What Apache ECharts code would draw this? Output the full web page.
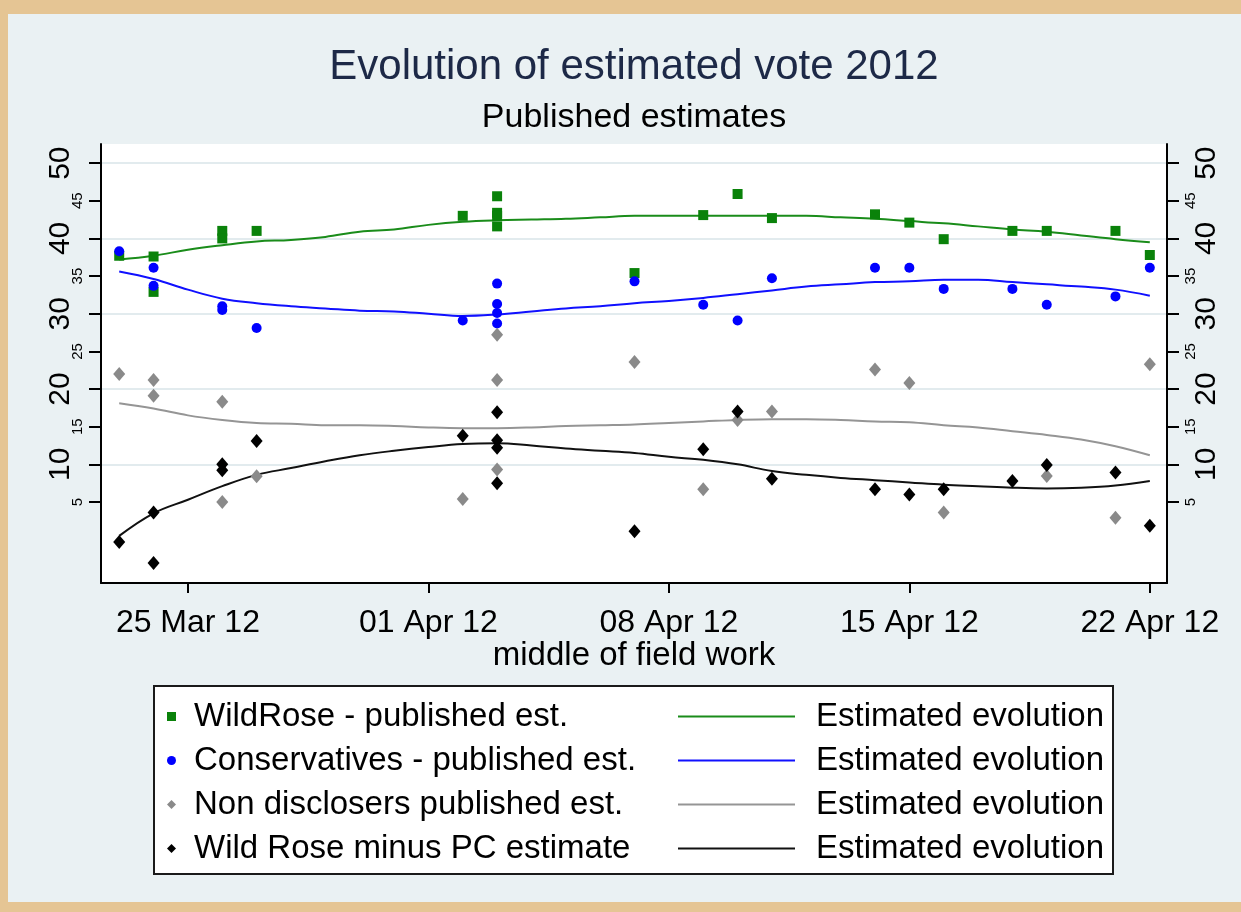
<!DOCTYPE html>
<html><head><meta charset="utf-8">
<script src="https://cdn.jsdelivr.net/npm/echarts@6/dist/echarts.min.js"></script>
<style>
html,body{margin:0;padding:0;background:#e5c594;width:1241px;height:912px;overflow:hidden;}
#c{position:absolute;left:8px;top:14px;width:1233px;height:888px;}
</style></head><body><div id="c"></div>
<script>
// ---- data ----
const pollDates = ['2012-03-23','2012-03-24','2012-03-24','2012-03-26','2012-03-26','2012-03-27',
  '2012-04-02','2012-04-03','2012-04-03','2012-04-03','2012-04-03','2012-04-07','2012-04-09',
  '2012-04-10','2012-04-11','2012-04-14','2012-04-15','2012-04-16','2012-04-18','2012-04-19',
  '2012-04-21','2012-04-22'];
const wildRose      = [37.7,37.6,32.9,41.0,40.0,41.0,43.0,45.6,43.4,43.0,41.6,35.4,43.1,45.9,42.7,43.2,42.1,39.9,41.0,41.0,41.0,37.8];
const conservatives = [38.3,33.7,36.1,31.0,30.5,28.1,29.1,28.7,30.1,31.3,34.0,34.3,31.2,29.1,34.7,36.1,36.1,33.3,33.3,31.2,32.3,36.1];
const nonDisclosers = [22.0,21.2,19.1,18.3,5.0,8.4,5.4,27.2,21.2,9.3,null,23.6,6.7,15.9,17.0,22.6,20.8,3.6,null,8.45,2.9,23.3];
const wrMinusPc     = [-0.3,3.6,-3.1,10.0,9.2,13.1,13.8,16.9,13.2,12.2,7.5,1.1,12.0,17.0,8.1,6.7,6.0,6.7,7.8,9.9,8.9,1.85];

const fitDates = ['2012-03-23','2012-03-24','2012-03-25','2012-03-26','2012-03-27','2012-03-28','2012-03-29',
  '2012-03-30','2012-03-31','2012-04-01','2012-04-02','2012-04-03','2012-04-04','2012-04-05','2012-04-06',
  '2012-04-07','2012-04-08','2012-04-09','2012-04-10','2012-04-11','2012-04-12','2012-04-13','2012-04-14',
  '2012-04-15','2012-04-16','2012-04-17','2012-04-18','2012-04-19','2012-04-20','2012-04-21','2012-04-22'];
const fitWildRose      = [37.2,37.7,38.5,39.1,39.6,39.8,40.2,40.9,41.2,41.8,42.2,42.4,42.5,42.6,42.8,43.0,43.0,43.0,43.0,43.0,43.0,42.8,42.6,42.3,42.0,41.6,41.2,40.9,40.4,39.9,39.5];
const fitConservatives = [35.6,34.6,33.2,32.0,31.4,31.0,30.7,30.4,30.3,30.0,29.7,29.9,30.3,30.7,31.0,31.4,31.7,32.1,32.6,33.1,33.6,33.9,34.2,34.3,34.5,34.5,34.2,33.9,33.6,33.2,32.4];
const fitNonDisclosers = [18.1,17.4,16.5,15.9,15.5,15.4,15.2,15.2,15.1,14.9,14.8,14.8,14.9,15.1,15.2,15.3,15.5,15.7,15.9,16.0,16.0,15.9,15.7,15.6,15.2,14.9,14.4,13.9,13.3,12.4,11.2];
const fitWrMinusPc     = [0.5,3.5,5.3,7.1,8.6,9.5,10.4,11.2,11.8,12.3,12.7,12.8,12.5,12.1,11.8,11.5,11.0,10.6,10.0,9.1,8.6,8.2,7.9,7.6,7.3,7.1,6.9,6.8,6.9,7.2,7.8];

const xTickDates  = ['2012-03-25','2012-04-01','2012-04-08','2012-04-15','2012-04-22'];
const xTickLabels = ['25 Mar 12','01 Apr 12','08 Apr 12','15 Apr 12','22 Apr 12'];
const yMajorTicks = [10,20,30,40,50];
const yMinorTicks = [5,15,25,35,45];

const scatterNames = ['WildRose - published est.','Conservatives - published est.','Non disclosers published est.','Wild Rose minus PC estimate'];
const fitNames = ['fit WildRose','fit Conservatives','fit Non disclosers','fit difference'];
const fitLabel = 'Estimated evolution';
const xTitle = 'middle of field work';
const mainTitle = 'Evolution of estimated vote 2012';
const subTitle = 'Published estimates';

// ---- helpers ----
const origin = Date.parse('2012-03-25');
const day = s => (Date.parse(s) - origin) / 86400000;
const xTickDays = xTickDates.map(day);
const pts = (dates, vals) => dates.map((d, i) => [day(d), vals[i]]).filter(p => p[1] != null);

const FONT = '"Liberation Sans", Arial, sans-serif';
const colors = ['#0a820a', '#0000ff', '#8a8a8a', '#000000'];
const fitColors = ['#1a8c1a', '#1010ff', '#959595', '#111111'];
const symbols = ['rect', 'circle', 'diamond', 'diamond'];
const symbolSizes = [10, 10, [12, 14], [12, 14]];
const scatterVals = [wildRose, conservatives, nonDisclosers, wrMinusPc];
const fitVals = [fitWildRose, fitConservatives, fitNonDisclosers, fitWrMinusPc];

const YMIN = -5.76, YMAX = 52.54;
const allYTicks = yMinorTicks.concat(yMajorTicks).sort((a, b) => a - b);

function yAxisPair(pos) {
  return [
    {
      type: 'value', position: pos, min: YMIN, max: YMAX,
      axisLine: { show: true, onZero: false, lineStyle: { color: '#000', width: 2 } },
      axisTick: { show: true, customValues: allYTicks, length: 12, lineStyle: { color: '#000', width: 2 } },
      axisLabel: { customValues: yMinorTicks, rotate: 90, fontSize: 15, margin: 16, color: '#000', fontFamily: FONT },
      splitLine: { show: false }
    },
    {
      type: 'value', position: pos, min: YMIN, max: YMAX,
      axisLine: { show: false, onZero: false },
      axisTick: { show: false, customValues: yMajorTicks },
      axisLabel: { customValues: yMajorTicks, rotate: 90, fontSize: 30, margin: 25, color: '#000', fontFamily: FONT },
      splitLine: { show: pos === 'left', lineStyle: { color: '#e2ebee', width: 2 } }
    }
  ];
}

const series = [];
scatterNames.forEach((n, i) => {
  series.push({
    name: n, type: 'scatter', xAxisIndex: 0, yAxisIndex: 0,
    data: pts(pollDates, scatterVals[i]),
    symbol: symbols[i], symbolSize: symbolSizes[i],
    itemStyle: { color: colors[i], opacity: 1 }, z: 3
  });
});
fitNames.forEach((n, i) => {
  series.push({
    name: n, type: 'line', xAxisIndex: 0, yAxisIndex: 0,
    data: pts(fitDates, fitVals[i]),
    showSymbol: false, symbol: 'none', smooth: 0.4,
    lineStyle: { color: fitColors[i], width: 2 },
    itemStyle: { color: fitColors[i] }, z: 2
  });
});

const chart = echarts.init(document.getElementById('c'), null, { renderer: 'canvas' });
chart.setOption({
  backgroundColor: '#eaf1f3',
  animation: false,
  textStyle: { fontFamily: FONT },
  title: [
    { text: mainTitle, left: 626, top: 32, textAlign: 'center', padding: 0,
      textStyle: { fontSize: 42, fontWeight: 'normal', color: '#1d2947', fontFamily: FONT } },
    { text: subTitle, left: 626, top: 87, textAlign: 'center', padding: 0,
      textStyle: { fontSize: 34, fontWeight: 'normal', color: '#000', fontFamily: FONT } }
  ],
  grid: { left: 93, top: 130, width: 1066, height: 439, show: true, backgroundColor: '#ffffff', borderWidth: 0, containLabel: false },
  xAxis: [{
    type: 'value', min: -2.53, max: 28.5,
    axisLine: { show: true, onZero: false, lineStyle: { color: '#000', width: 2 } },
    axisTick: { show: true, customValues: xTickDays, length: 10, lineStyle: { color: '#000', width: 2 } },
    axisLabel: { customValues: xTickDays, formatter: v => xTickLabels[xTickDays.indexOf(v)] || '',
      fontSize: 32, margin: 24, color: '#000', fontFamily: FONT },
    splitLine: { show: false },
    name: xTitle, nameLocation: 'middle', nameGap: 52,
    nameTextStyle: { fontSize: 33, color: '#000', fontFamily: FONT }
  }],
  yAxis: yAxisPair('left').concat(yAxisPair('right')),
  legend: [
    { data: scatterNames, orient: 'vertical', left: 159, top: 686, padding: 0, itemGap: 11,
      itemWidth: 9, itemHeight: 9, selectedMode: false, z: 10,
      textStyle: { fontSize: 33, color: '#000', fontFamily: FONT, padding: [0, 0, 0, 13], lineHeight: 33 } },
    { data: fitNames, orient: 'vertical', left: 670, top: 686, padding: 0, itemGap: 11,
      icon: 'rect', itemWidth: 117, itemHeight: 2, selectedMode: false, z: 10, formatter: () => fitLabel,
      textStyle: { fontSize: 33, color: '#000', fontFamily: FONT, padding: [0, 0, 0, 16], lineHeight: 33 } }
  ],
  graphic: [{
    type: 'rect', left: 145, top: 671, z: 1,
    shape: { width: 959, height: 188 },
    style: { fill: '#ffffff', stroke: '#1a1a1a', lineWidth: 2 }
  }],
  series: series
});
</script></body></html>
